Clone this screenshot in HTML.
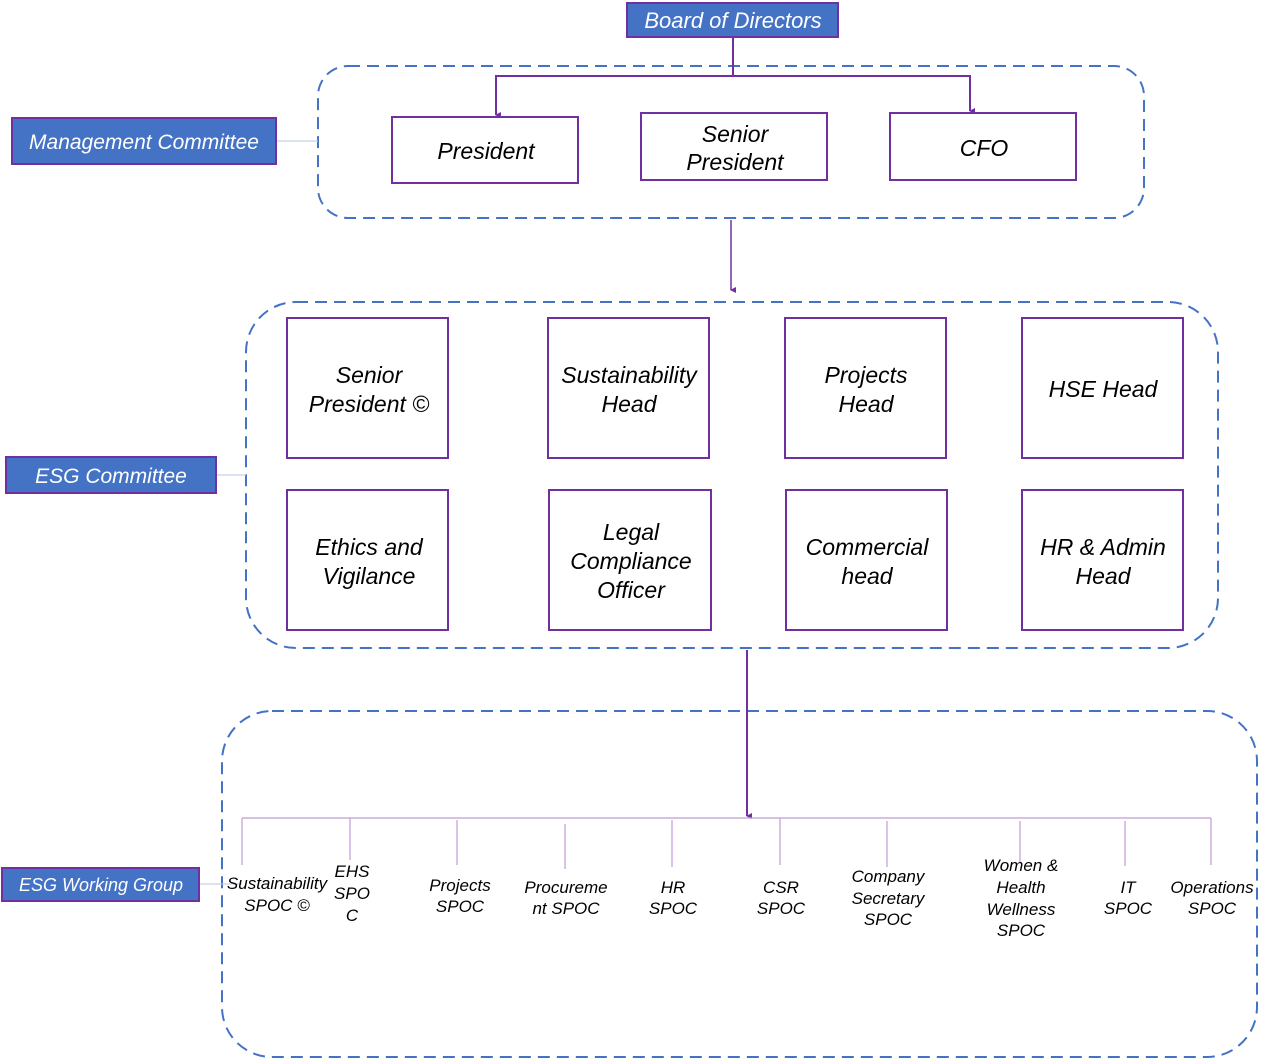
<!DOCTYPE html>
<html><head><meta charset="utf-8"><style>
html,body{margin:0;padding:0;background:#fff;}
svg{display:block;font-family:"Liberation Sans",sans-serif;font-style:italic;}
</style></head><body>
<svg width="1261" height="1059" viewBox="0 0 1261 1059" xmlns="http://www.w3.org/2000/svg">
<defs>
<marker id="ar" markerWidth="6" markerHeight="6" refX="3" refY="5" orient="auto" markerUnits="userSpaceOnUse">
<path d="M0,0 L6,0 L3,6 z" fill="#7030A0"/></marker>
</defs>
<!-- dashed groups -->
<g fill="none" stroke="#4472C4" stroke-width="2" stroke-dasharray="12,7">
<rect x="318" y="66" width="826" height="152" rx="30"/>
<rect x="246" y="302" width="972" height="346" rx="50"/>
<rect x="222" y="711" width="1035" height="346" rx="50"/>
</g>
<!-- label connectors -->
<g stroke="#b8c6e6" stroke-width="1">
<line x1="276" y1="141" x2="318" y2="141"/>
<line x1="216" y1="475" x2="246" y2="475"/>
<line x1="199" y1="884" x2="242" y2="884"/>
</g>
<!-- labels -->
<g stroke="#7030A0" stroke-width="2" fill="#4472C4">
<rect x="627" y="3" width="211" height="34"/>
<rect x="12" y="118" width="264" height="46"/>
<rect x="6" y="457" width="210" height="36"/>
<rect x="2" y="868" width="197" height="33"/>
</g>
<g fill="#fff" text-anchor="middle">
<text x="733" y="28" font-size="22">Board of Directors</text>
<text x="144" y="149" font-size="21">Management Committee</text>
<text x="111" y="483" font-size="21">ESG Committee</text>
<text x="101" y="891" font-size="18">ESG Working Group</text>
</g>
<!-- top connectors -->
<g stroke="#7030A0" stroke-width="2" fill="none">
<path d="M733,37 V76 H496 V115" marker-end="url(#ar)"/>
<path d="M733,76 H970 V111" marker-end="url(#ar)"/>
<line x1="731" y1="220" x2="731" y2="290" stroke-width="1.5" marker-end="url(#ar)"/>
<line x1="747" y1="650" x2="747" y2="816" marker-end="url(#ar)"/>
</g>
<!-- boxes -->
<g fill="#fff" stroke="#7030A0" stroke-width="2">
<rect x="392" y="117" width="186" height="66"/>
<rect x="641" y="113" width="186" height="67"/>
<rect x="890" y="113" width="186" height="67"/>
<rect x="287" y="318" width="161" height="140"/>
<rect x="548" y="318" width="161" height="140"/>
<rect x="785" y="318" width="161" height="140"/>
<rect x="1022" y="318" width="161" height="140"/>
<rect x="287" y="490" width="161" height="140"/>
<rect x="549" y="490" width="162" height="140"/>
<rect x="786" y="490" width="161" height="140"/>
<rect x="1022" y="490" width="161" height="140"/>
</g>
<g fill="#000" text-anchor="middle" font-size="23">
<text x="486" y="159">President</text>
<text x="735" y="142">Senior</text><text x="735" y="170">President</text>
<text x="984" y="156">CFO</text>
<text x="369" y="383">Senior</text><text x="369" y="412">President ©</text>
<text x="629" y="383">Sustainability</text><text x="629" y="412">Head</text>
<text x="866" y="383">Projects</text><text x="866" y="412">Head</text>
<text x="1103" y="397">HSE Head</text>
<text x="369" y="555">Ethics and</text><text x="369" y="584">Vigilance</text>
<text x="631" y="540">Legal</text><text x="631" y="569">Compliance</text><text x="631" y="598">Officer</text>
<text x="867" y="555">Commercial</text><text x="867" y="584">head</text>
<text x="1103" y="555">HR &amp; Admin</text><text x="1103" y="584">Head</text>
</g>
<!-- working group tree -->
<g stroke="#c09ad8" stroke-width="1.2">
<line x1="242" y1="818" x2="1211" y2="818"/>
<line x1="242" y1="818" x2="242" y2="865"/>
<line x1="350" y1="818" x2="350" y2="860"/>
<line x1="457" y1="820" x2="457" y2="865"/>
<line x1="565" y1="824" x2="565" y2="869"/>
<line x1="672" y1="820" x2="672" y2="867"/>
<line x1="780" y1="818" x2="780" y2="865"/>
<line x1="887" y1="821" x2="887" y2="867"/>
<line x1="1020" y1="821" x2="1020" y2="862"/>
<line x1="1125" y1="821" x2="1125" y2="866"/>
<line x1="1211" y1="818" x2="1211" y2="865"/>
</g>
<g fill="#000" text-anchor="middle" font-size="17">
<text x="277" y="889">Sustainability</text><text x="277" y="911">SPOC ©</text>
<text x="352" y="877">EHS</text><text x="352" y="899">SPO</text><text x="352" y="921">C</text>
<text x="460" y="891">Projects</text><text x="460" y="912">SPOC</text>
<text x="566" y="893">Procureme</text><text x="566" y="914">nt SPOC</text>
<text x="673" y="893">HR</text><text x="673" y="914">SPOC</text>
<text x="781" y="893">CSR</text><text x="781" y="914">SPOC</text>
<text x="888" y="882">Company</text><text x="888" y="904">Secretary</text><text x="888" y="925">SPOC</text>
<text x="1021" y="871">Women &amp;</text><text x="1021" y="893">Health</text><text x="1021" y="915">Wellness</text><text x="1021" y="936">SPOC</text>
<text x="1128" y="893">IT</text><text x="1128" y="914">SPOC</text>
<text x="1212" y="893">Operations</text><text x="1212" y="914">SPOC</text>
</g>
</svg>
</body></html>
